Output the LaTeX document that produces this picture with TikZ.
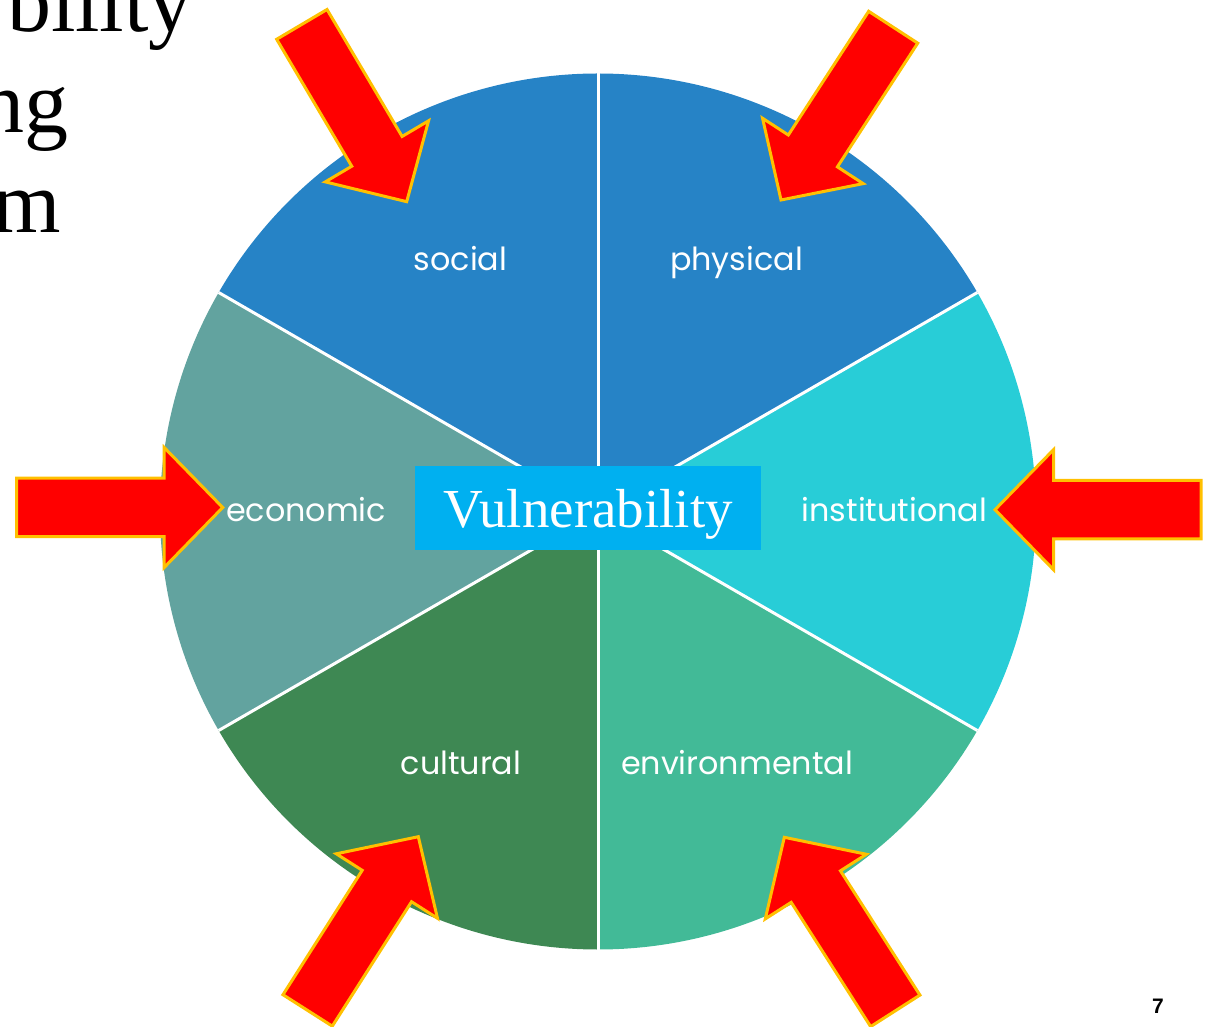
\documentclass[tikz,border=0pt]{standalone}
\usepackage{fontspec}
\usetikzlibrary{calc}
\setmainfont{Liberation Serif}
\newfontfamily\labelfont{Poppins}
\newfontfamily\numfont{Liberation Sans}
\definecolor{blueseg}{RGB}{38,131,198}
\definecolor{cyanseg}{RGB}{40,205,215}
\definecolor{mintseg}{RGB}{66,186,151}
\definecolor{greenseg}{RGB}{62,136,83}
\definecolor{tealseg}{RGB}{98,163,159}
\definecolor{corefill}{RGB}{0,176,240}
\definecolor{arrowred}{RGB}{255,0,0}
\definecolor{arroworange}{RGB}{255,192,0}
\begin{document}
\begin{tikzpicture}[x=1pt,y=1pt,
  divider/.style={white, line width=3pt},
  seglabel/.style={text=white, inner sep=0pt, anchor=base,
    font=\labelfont\fontsize{31.8}{38}\selectfont},
  titletext/.style={inner sep=0pt, anchor=base east,
    font=\fontsize{88}{100}\selectfont},
  corebox/.style={fill=corefill, minimum width=346pt, minimum height=84pt, inner sep=0pt},
  redarrow/.style={fill=arrowred, draw=arroworange, line width=3pt, line join=miter},
  pics/bigarrow/.style={code={
    \draw[redarrow] (0,0) -- (-58.5,60) -- (-58.5,29.25) -- (-206,29.25)
      -- (-206,-29.25) -- (-58.5,-29.25) -- (-58.5,-60) -- cycle;}}
  ]
\useasboundingbox (0,0) rectangle (1206,1026);
\clip (0,0) rectangle (1206,1026);

% partly hidden title lines on the left
\node[titletext] (title1) at (193,994) {bility};
\node[titletext] (title2) at (69,893) {ng};
\node[titletext] (title3) at (61,793) {m};

% the six sectors of the wheel
\coordinate (C) at (598,514.5);
\fill[blueseg]  (C) -- ++(90:438)  arc[start angle=90,  end angle=150, radius=438] -- cycle;
\fill[blueseg]  (C) -- ++(30:438)  arc[start angle=30,  end angle=90,  radius=438] -- cycle;
\fill[cyanseg]  (C) -- ++(-30:438) arc[start angle=-30, end angle=30,  radius=438] -- cycle;
\fill[mintseg]  (C) -- ++(270:438) arc[start angle=270, end angle=330, radius=438] -- cycle;
\fill[greenseg] (C) -- ++(210:438) arc[start angle=210, end angle=270, radius=438] -- cycle;
\fill[tealseg]  (C) -- ++(150:438) arc[start angle=150, end angle=210, radius=438] -- cycle;

% white dividers between the sectors
\draw[divider] ($(C)+(90:438)$) -- ($(C)+(270:438)$);
\draw[divider] ($(C)+(30:438)$) -- ($(C)+(210:438)$);
\draw[divider] ($(C)+(150:438)$) -- ($(C)+(330:438)$);

% centre box
\node[corebox] (core) at (588,518) {};
\node[text=white, inner sep=0pt, anchor=base, font=\fontsize{55}{60}\selectfont]
  (corelabel) at (588,498.3) {Vulnerability};

% sector labels
\node[seglabel] (social) at (460.5,755.3) {social};
\node[seglabel] (physical) at (736.5,755.3) {physical};
\node[seglabel] (economic) at (306,504.3) {economic};
\node[seglabel] (institutional) at (894.5,504.3) {institutional};
\node[seglabel] (cultural) at (461,252) {cultural};
\node[seglabel] (environmental) at (737,252) {environmental};

% inward pointing arrows
\pic[rotate=-59.4] (arrTL) at (406.7,824.3) {bigarrow};
\pic[rotate=-123]  (arrTR) at (781,826) {bigarrow};
\pic[rotate=0]     (arrL)  at (222.7,518.5) {bigarrow};
\pic[rotate=180]   (arrR)  at (995,516.3) {bigarrow};
\pic[rotate=57.5]  (arrBL) at (418.3,189.3) {bigarrow};
\pic[rotate=122.6] (arrBR) at (784.3,188.7) {bigarrow};

% page number
\node[inner sep=0pt, anchor=base, font=\numfont\bfseries\fontsize{21}{21}\selectfont] (pagenum) at (1158,13) {7};
\end{tikzpicture}
\end{document}
